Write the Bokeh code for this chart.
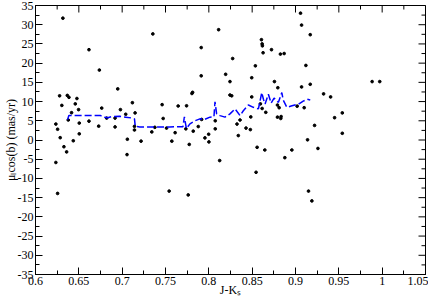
import math
from bokeh.plotting import figure
from bokeh.models import SingleIntervalTicker, NumeralTickFormatter, Range1d
from bokeh.embed import file_html
from bokeh.resources import INLINE

# individual stars: J-Ks colour and proper motion mu_l cos(b) (mas/yr)
jk = [0.6316, 0.7354, 0.6617, 0.6737, 0.6949, 0.6278, 0.6367, 0.6386, 0.6478, 0.6304,
      0.6459, 0.7118, 0.7461, 0.6764, 0.6416, 0.6497, 0.6980, 0.7041, 0.7149, 0.7473,
      0.6378, 0.6505, 0.6617, 0.6235, 0.6255, 0.6729, 0.6918, 0.6821, 0.6918, 0.7142,
      0.7142, 0.7377, 0.7342, 0.6285, 0.6505, 0.7060, 0.7218, 0.6436, 0.6328, 0.6359,
      0.7056, 0.6235, 0.6255, 0.8113, 0.8607, 0.8615, 0.8618, 0.7912, 0.8723, 0.8626,
      0.8826, 0.8869, 0.8275, 0.8537, 0.7912, 0.8194, 0.8495, 0.8244, 0.8757, 0.8796,
      0.7813, 0.7805, 0.8244, 0.8264, 0.8495, 0.7646, 0.7743, 0.8615, 0.8657, 0.8792,
      0.8811, 0.9019, 0.7917, 0.8074, 0.8360, 0.8484, 0.8792, 0.8834, 0.8830, 0.7512,
      0.7611, 0.7735, 0.7820, 0.7878, 0.8074, 0.8325, 0.8429, 0.8479, 0.7573, 0.7774,
      0.7955, 0.7998, 0.8001, 0.8340, 0.8557, 0.8646, 0.8877, 0.8958, 0.8125, 0.8545,
      0.7542, 0.7762, 0.9058, 0.9070, 0.9170, 0.9120, 0.9070, 0.9170, 0.9884, 0.9972,
      0.9324, 0.9405, 0.9100, 0.9540, 0.9451, 0.9220, 0.9540, 0.9139, 0.9259, 0.9150,
      0.9189, 0.8595]
mu = [31.7, 27.6, 23.5, 18.2, 13.3, 11.5, 11.6, 11.1, 10.8, 9.0,
      9.4, 9.7, 9.2, 8.3, 7.1, 7.9, 7.9, 6.7, 7.05, 5.6,
      5.2, 4.4, 4.9, 4.15, 2.8, 3.6, 3.4, 5.7, 5.7, 3.55,
      2.6, 3.3, 2.1, 0.6, 1.6, 0.2, -0.3, -0.2, -1.75, -3.1,
      -3.8, -5.85, -13.9, 28.7, 26.1, 25.0, 24.5, 24.05, 23.5, 22.7,
      22.35, 22.5, 21.2, 19.3, 16.7, 17.1, 16.2, 15.2, 15.2, 13.6,
      12.4, 12.1, 11.7, 11.5, 11.2, 8.85, 8.9, 8.2, 7.2, 9.1,
      8.4, 8.8, 5.35, 5.0, 5.2, 6.0, 5.95, 6.1, 5.6, 3.1,
      1.9, 2.9, 2.3, 3.5, 2.9, 4.15, 3.1, 2.7, -0.3, -1.15,
      0.55, 1.5, -0.5, 1.15, -1.9, -2.6, -4.6, -2.6, -5.35, -8.4,
      -13.3, -14.3, 33.0, 29.9, 27.4, 19.4, 13.8, 14.5, 15.2, 15.2,
      12.0, 11.2, 8.4, 7.05, 5.8, 3.8, 1.75, 0.05, -2.2, -13.3,
      -15.85, 9.4]

# running mean (dashed blue curve)
avg_jk = [0.6370, 0.6385, 0.6509, 0.6752, 0.6798, 0.6833, 0.6879, 0.6972, 0.7041, 0.7119,
          0.7142, 0.7151, 0.7203, 0.7377, 0.7550, 0.7701, 0.7718, 0.7741, 0.7782, 0.7839,
          0.7897, 0.7955, 0.8013, 0.8059, 0.8071, 0.8090, 0.8129, 0.8186, 0.8244, 0.8302,
          0.8360, 0.8398, 0.8456, 0.8514, 0.8572, 0.8611, 0.8630, 0.8649, 0.8687, 0.8719,
          0.8753, 0.8803, 0.8842, 0.8858, 0.8900, 0.8950, 0.9035, 0.9089, 0.9135, 0.9170]
avg_mu = [5.3, 6.35, 6.35, 6.35, 5.9, 5.8, 6.1, 6.15, 5.95, 5.7,
          5.5, 3.55, 3.4, 3.4, 3.4, 3.45, 6.0, 2.95, 4.2, 5.0,
          5.5, 5.4, 5.95, 6.0, 9.95, 6.8, 6.35, 5.95, 6.8, 8.1,
          6.35, 7.6, 9.1, 8.5, 8.1, 12.35, 10.6, 9.35, 11.9, 9.6,
          10.9, 9.8, 12.35, 10.4, 8.5, 8.85, 9.35, 10.1, 10.6, 10.4]

# mirrored tick positions for the top and right frame edges
x_major = [0.6, 0.65, 0.7, 0.75, 0.8, 0.85, 0.9, 0.95, 1.0, 1.05]
x_minor = [0.625, 0.675, 0.725, 0.775, 0.825, 0.875, 0.925, 0.975, 1.025]
y_major = [-35, -30, -25, -20, -15, -10, -5, 0, 5, 10, 15, 20, 25, 30, 35]
y_minor = [-32.5, -27.5, -22.5, -17.5, -12.5, -7.5, -2.5, 2.5, 7.5, 12.5, 17.5, 22.5, 27.5, 32.5]

x_label = "J-K\u209b"
y_label = "\u03bc\u2097cos(b) (mas/yr)"

FONT = "Liberation Serif"
FS = "12px"
X0, X1, Y0, Y1 = 0.6, 1.05, -35, 35

p = figure(width=428, height=299, x_range=Range1d(X0, X1), y_range=Range1d(Y0, Y1),
           output_backend="svg", toolbar_location=None,
           min_border_left=0, min_border_right=3, min_border_top=5, min_border_bottom=0,
           background_fill_color="white", border_fill_color="white")
p.xgrid.visible = False
p.ygrid.visible = False
p.outline_line_color = "black"
p.outline_line_width = 1


def style(ax, interval, fmt):
    ax.ticker = SingleIntervalTicker(interval=interval, num_minor_ticks=2)
    ax.major_tick_in = 7
    ax.major_tick_out = 0
    ax.minor_tick_in = 4
    ax.minor_tick_out = 0
    ax.axis_line_color = "black"
    ax.major_tick_line_color = "black"
    ax.minor_tick_line_color = "black"
    ax.formatter = NumeralTickFormatter(format=fmt)
    ax.major_label_text_font = FONT
    ax.major_label_text_font_size = FS
    ax.major_label_text_color = "black"
    ax.major_label_standoff = 2
    ax.axis_label_text_font = FONT
    ax.axis_label_text_font_size = FS
    ax.axis_label_text_font_style = "normal"
    ax.axis_label_text_color = "black"


style(p.xaxis[0], 0.05, "0.[00]")
style(p.yaxis[0], 5, "0")
p.xaxis[0].axis_label = x_label
p.yaxis[0].axis_label = y_label
p.xaxis[0].axis_label_standoff = -5
p.yaxis[0].axis_label_standoff = -3

# mirrored inward ticks (half of each dash is clipped by the frame)
p.scatter(x_major, [Y1] * len(x_major), marker="dash", size=14, angle=math.pi / 2,
          line_color="black", line_width=1)
p.scatter(x_minor, [Y1] * len(x_minor), marker="dash", size=8, angle=math.pi / 2,
          line_color="black", line_width=1)
p.scatter([X1] * len(y_major), y_major, marker="dash", size=14,
          line_color="black", line_width=1)
p.scatter([X1] * len(y_minor), y_minor, marker="dash", size=8,
          line_color="black", line_width=1)

p.scatter(jk, mu, size=2.7, color="black")
p.line(avg_jk, avg_mu, line_color="#0000ff", line_width=1.5, line_dash="7 3")

open("out.html", "w").write(file_html(p, INLINE))
